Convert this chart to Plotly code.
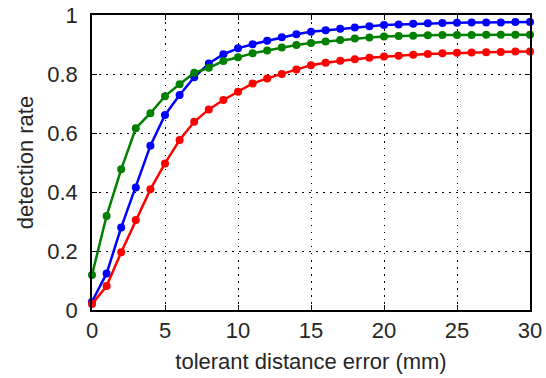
import plotly.graph_objects as go

x_mm = list(range(0, 31))
blue_rate = [0.028, 0.124, 0.280, 0.415, 0.557, 0.661, 0.729, 0.789, 0.836, 0.867, 0.887,
             0.901, 0.913, 0.925, 0.935, 0.943, 0.948, 0.953, 0.958, 0.962, 0.966,
             0.968, 0.970, 0.972, 0.973, 0.974, 0.975, 0.975, 0.975, 0.976, 0.976]
green_rate = [0.119, 0.319, 0.477, 0.616, 0.667, 0.725, 0.765, 0.804, 0.821, 0.844, 0.857,
              0.870, 0.880, 0.890, 0.898, 0.905, 0.910, 0.915, 0.920, 0.924, 0.927,
              0.929, 0.930, 0.931, 0.932, 0.932, 0.932, 0.933, 0.933, 0.933, 0.933]
red_rate = [0.020, 0.081, 0.196, 0.305, 0.409, 0.497, 0.576, 0.638, 0.680, 0.712, 0.740,
            0.768, 0.785, 0.800, 0.815, 0.830, 0.838, 0.845, 0.850, 0.855, 0.859,
            0.862, 0.865, 0.868, 0.870, 0.872, 0.873, 0.874, 0.875, 0.876, 0.876]

x_ticks = [0, 5, 10, 15, 20, 25, 30]
y_ticks = [0, 0.2, 0.4, 0.6, 0.8, 1]
y_tick_labels = ["0", "0.2", "0.4", "0.6", "0.8", "1"]

TXT = "#262626"
fig = go.Figure()
for vals, col in [(blue_rate, "#0000FF"), (green_rate, "#008000"), (red_rate, "#FF0000")]:
    fig.add_trace(go.Scatter(x=x_mm, y=vals, mode="lines+markers",
                             line=dict(color=col, width=2.5),
                             marker=dict(color=col, size=8),
                             showlegend=False, cliponaxis=False))

axis_common = dict(showline=True, linecolor="black", linewidth=1.5, mirror="ticks",
                   ticks="inside", ticklen=5, tickcolor="black", tickwidth=1,
                   showgrid=True, gridcolor="black", gridwidth=1, griddash="1.5px,5.5px",
                   zeroline=False, tickfont=dict(size=22, color=TXT), automargin=False,
                   ticklabeloverflow="allow")

fig.update_xaxes(range=[0, 30], tickvals=x_ticks, ticktext=[str(t) for t in x_ticks],
                 ticklabelstandoff=0,
                 title=dict(text="tolerant distance error (mm)", font=dict(size=22, color=TXT), standoff=11),
                 **axis_common)
fig.update_yaxes(range=[0, 1], tickvals=y_ticks, ticktext=y_tick_labels,
                 ticklabelstandoff=8,
                 title=dict(text="detection rate", font=dict(size=22, color=TXT), standoff=8),
                 **axis_common)

fig.update_layout(width=546, height=378,
                  margin=dict(l=92, r=16, t=15, b=68),
                  paper_bgcolor="white", plot_bgcolor="white",
                  font=dict(family="Liberation Sans, Arial, sans-serif", size=22, color=TXT))

fig.write_html("out.html", config={"displayModeBar": False},
               post_script="document.body.style.margin='0';")
